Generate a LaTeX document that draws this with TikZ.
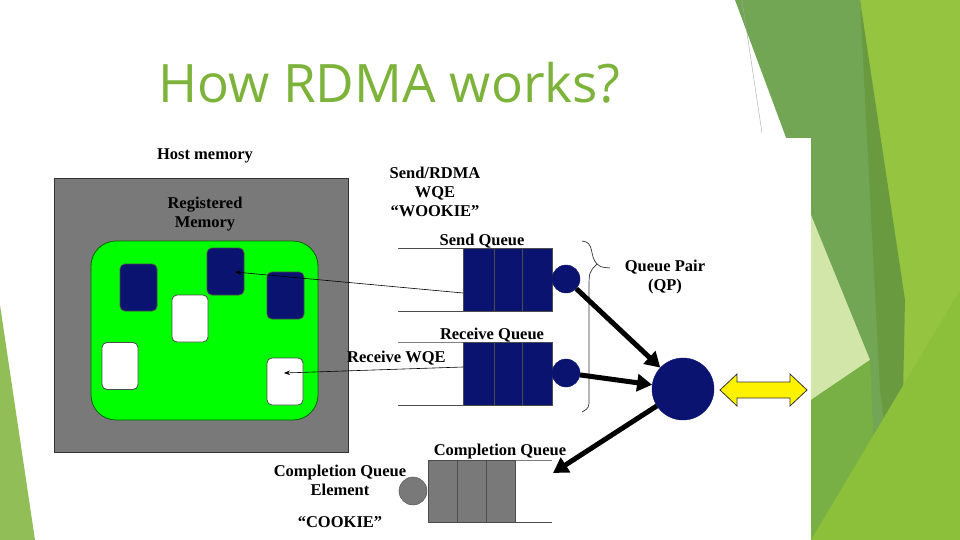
\documentclass[tikz,border=0pt]{standalone}
\usepackage{fontspec}
\setmainfont{Liberation Serif}
\newfontfamily\titlefont{Open Sans}
\usetikzlibrary{arrows.meta}
\definecolor{navyq}{HTML}{0A1470}
\definecolor{titleg}{HTML}{7DB33A}
\definecolor{gA}{HTML}{72A554}
\definecolor{gB}{HTML}{8DC03A}
\definecolor{gC}{HTML}{D2E6AA}
\definecolor{gD}{HTML}{6A9A40}
\definecolor{gE}{HTML}{95C540}
\definecolor{gF}{HTML}{78B045}
\begin{document}
\begin{tikzpicture}[x=1pt,y=-1pt,
  lbl/.style={font=\fontsize{16.5}{19}\selectfont\bfseries,align=center,inner sep=0pt},
  blk/.style={draw=black!70,rounded corners=5pt,line width=0.8pt},
  qbox/.style={draw=black!70,fill=navyq,line width=0.6pt},
  qline/.style={draw=black!70,line width=0.8pt},
  thick arrow/.style={line width=5pt,-{Triangle[length=15pt,width=17pt]}},
  thin arrow/.style={line width=0.6pt,-{Stealth[length=6pt]}}]
\useasboundingbox (0,0) rectangle (960,540);
\fill[white] (0,0) rectangle (960,540);
% background decorations
\fill[gE] (860,0) -- (960,0) -- (960,540) -- (880,540) -- cycle;
\fill[gA] (735,0) -- (860,0) -- (900,540) -- (811,540) -- (811,205) -- cycle;
\fill[gD] (860,0) -- (880,390) -- (900,540) -- (905,300) -- cycle;
\fill[gC] (811,215) -- (870,360) -- (811,400) -- cycle;
\fill[gF] (811,400) -- (870,360) -- (878,540) -- (811,540) -- cycle;
\fill[gB] (811,540) -- (960,290) -- (960,540) -- cycle;
\fill[titleg!85] (0,305) -- (35,540) -- (0,540) -- cycle;
\draw[gray!70,line width=0.4pt] (742,0) -- (762,133);
% white diagram panel
\fill[white] (40,138) rectangle (811,540);
% title
\node[font=\titlefont\fontsize{53}{58}\selectfont,text=titleg,anchor=base west,inner sep=0pt] (title) at (158,103) {How RDMA works?};
% host memory
\node[lbl] (hostlbl) at (205,156) {Host memory};
\node[draw=black!80,fill=gray!95!black,line width=0.8pt,minimum width=294pt,minimum height=274pt,inner sep=0pt] (host) at (201,315) {};
\node[lbl] (reglbl) at (205,214) {Registered\\Memory};
\node[draw=green!40!black,fill=green,rounded corners=25pt,line width=0.8pt,minimum width=227pt,minimum height=179pt,inner sep=0pt] (reg) at (204.5,330.5) {};
\node[blk,fill=navyq,minimum width=37pt,minimum height=47pt] (b1) at (138.5,287.5) {};
\node[blk,fill=navyq,minimum width=37pt,minimum height=47pt] (b2) at (225.5,271.5) {};
\node[blk,fill=navyq,minimum width=37pt,minimum height=47pt] (b3) at (285.5,295.5) {};
\node[blk,fill=white,minimum width=36pt,minimum height=47pt] (w1) at (190,318.5) {};
\node[blk,fill=white,minimum width=36pt,minimum height=47pt] (w2) at (120,366) {};
\node[blk,fill=white,minimum width=36pt,minimum height=47pt] (w3) at (285,381.5) {};
\coordinate (b2in) at (235,272);
\coordinate (w3in) at (284,373);
% send queue
\node[lbl] (wqe) at (435,192) {Send/RDMA\\WQE\\``WOOKIE''};
\node[lbl] (sqlbl) at (482,241) {Send Queue};
\draw[qline] (398,248) -- (463,248) (398,311) -- (463,311);
\node[qbox,minimum width=89pt,minimum height=63pt,inner sep=0pt] (sq) at (507.5,279.5) {};
\draw[black!70] (494,248) -- (494,311) (522,248) -- (522,311);
\node[circle,fill=navyq,draw=navyq,minimum size=28pt,inner sep=0pt] (sc) at (566,279) {};
% receive queue
\node[lbl] (rqlbl) at (492,335) {Receive Queue};
\draw[qline,gray] (398,342) -- (552,342);
\draw[qline] (398,405) -- (463,405);
\node[qbox,minimum width=89pt,minimum height=63pt,inner sep=0pt] (rq) at (507.5,373.5) {};
\draw[black!70] (494,342) -- (494,405) (522,342) -- (522,405);
\node[circle,fill=navyq,draw=navyq,minimum size=28pt,inner sep=0pt] (rc) at (566,373) {};
\node[lbl,anchor=west] (rwqe) at (347,358) {Receive WQE};
% WQE pointers
\draw[thin arrow] (463,293) -- (b2in);
\draw[thin arrow] (463,367) -- (w3in);
% brace
\draw[black!80,line width=0.7pt] (582,241) .. controls (595,242) and (589,256) .. (597,264) .. controls (600,267) .. (610,268)
  (597,264) .. controls (589,272) .. (589,290) -- (589,398) .. controls (589,408) .. (582,412);
\node[lbl] (qplbl) at (665,277) {Queue Pair\\(QP)};
% QP
\node[circle,fill=navyq,draw=navyq,minimum width=60pt,minimum height=62pt,inner sep=0pt] (qp) at (683,389) {};
\draw[thick arrow] (sc) -- (qp);
\draw[thick arrow] (rc) -- (qp);
% completion queue
\node[lbl] (cqlbl) at (500,452) {Completion Queue};
\draw[qline,gray] (428,460) -- (552,460);
\draw[qline] (515,522) -- (552,522);
\node[draw=black!70,fill=gray!95!black,minimum width=87pt,minimum height=62pt,inner sep=0pt] (cq) at (471.5,491) {};
\draw[black!70] (457,460) -- (457,522) (486,460) -- (486,522);
\node[circle,fill=gray!95!black,draw=black!70,minimum size=28pt,inner sep=0pt] (cc) at (413,491) {};
\coordinate (cqin) at (553,473);
\draw[thick arrow] (qp) -- (cqin);
\node[lbl] (cqe) at (340,480) {Completion Queue\\Element};
\node[lbl] (cookie) at (340,522) {``COOKIE''};
% yellow double arrow
\draw[black!80,fill=yellow,line width=0.8pt] (720,390) -- (737,374) -- (737,382) -- (790,382) -- (790,374) -- (807,390) -- (790,406) -- (790,398) -- (737,398) -- (737,406) -- cycle;
\end{tikzpicture}
\end{document}
